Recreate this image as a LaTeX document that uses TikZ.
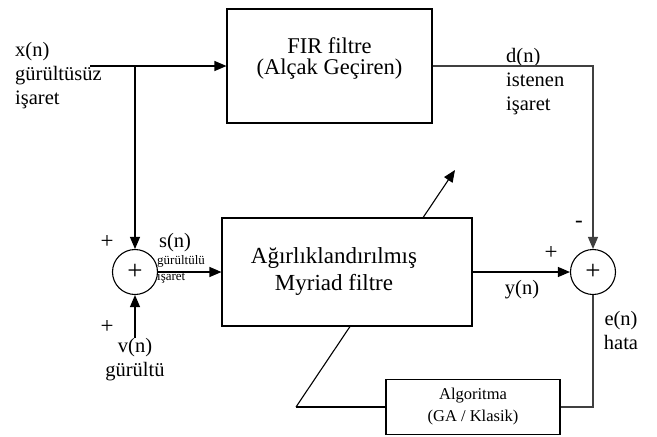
\documentclass[tikz,border=0pt]{standalone}
\usepackage{fontspec}
\setmainfont{Liberation Serif}
\usetikzlibrary{arrows.meta,positioning}

\tikzset{
  block/.style={draw, rectangle, line width=1.1pt, fill=white, inner sep=0pt},
  sumnode/.style={draw, circle, line width=1.1pt, minimum size=45pt, inner sep=0pt, font=\fontsize{27}{27}\selectfont},
  sig/.style={line width=1.1pt},
  arr/.style={line width=1.1pt, -{Triangle[length=12pt,width=10pt]}},
  lbl/.style={font=\fontsize{20.5}{24}\selectfont, align=left, inner sep=0pt},
  tiny/.style={font=\fontsize{13}{16}\selectfont, align=left, inner sep=0pt},
  sign/.style={font=\fontsize{23}{23}\selectfont, inner sep=0pt}
}

\begin{document}
\begin{tikzpicture}[x=1pt, y=-1pt]
  \useasboundingbox (0,0) rectangle (657,437);

  \coordinate (xin) at (90,66);
  \coordinate (split) at (135,66);
  \coordinate (kink) at (296,407);
  \coordinate (tip) at (455,170);

  \draw[arr] (kink) -- (tip);

  \node[block, minimum width=205pt, minimum height=114pt] (fir) at (329.5,66) {};
  \node[lbl, align=center, font=\fontsize{22.5}{21}\selectfont] (firtext) at (329.5,58) {FIR filtre\\(Alçak Geçiren)};
  \node[block, minimum width=250pt, minimum height=108pt] (myr) at (347,272) {};
  \node[lbl, align=center, font=\fontsize{23}{27}\selectfont] (myrtext) at (334,271) {Ağırlıklandırılmış\\Myriad filtre};
  \node[block, minimum width=174pt, minimum height=55pt, align=center, font=\fontsize{16.5}{22}\selectfont] (alg) at (473,407) {Algoritma\\(GA / Klasik)};

  \node[sumnode] (sum1) at (135,272) {+};
  \node[sumnode] (sum2) at (593,272) {+};

  \node[lbl, anchor=west] (xlab) at (15,76) {x(n)\\gürültüsüz\\işaret};
  \node[lbl, anchor=north, align=center] (vlab) at (135,338) {v(n)\\gürültü};
  \node[lbl] (slab) at (175,243) {s(n)};
  \node[tiny, anchor=west] (snote) at (157,269) {gürültülü\\işaret};
  \node[lbl, anchor=west] (dlab) at (506,82) {d(n)\\istenen\\işaret};
  \node[lbl] (ylab) at (522,290) {y(n)};
  \node[lbl, align=center] (elab) at (621,330) {e(n)\\hata};

  \node[sign] (p1) at (107,242) {+};
  \node[sign] (p2) at (107,327) {+};
  \node[sign] (p3) at (551,253) {+};
  \node[sign] (m1) at (579,224) {-};

  \draw[arr] (xin) -- (fir);
  \draw[arr] (split) -- (sum1);
  \draw[arr] (vlab) -- (sum1);
  \draw[arr] (sum1) -- (myr);
  \draw[arr] (myr) -- (sum2);
  \draw[arr, black!75] (fir.east) -| (sum2);
  \draw[sig, black!75] (sum2) |- (alg);
  \draw[sig] (alg) -- (kink);
\end{tikzpicture}
\end{document}
